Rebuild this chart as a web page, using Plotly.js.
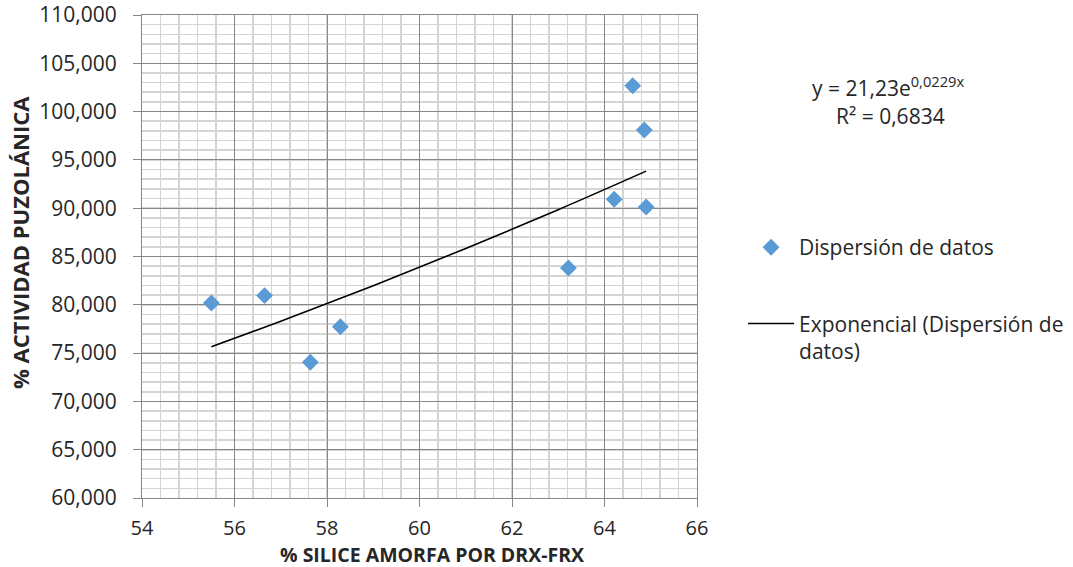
<!DOCTYPE html>
<html>
<head>
<meta charset="utf-8">
<script src="https://cdn.plot.ly/plotly-3.0.1.min.js"></script>
<style>
html,body{margin:0;padding:0;background:#fff;}
#chart{width:1073px;height:567px;}
</style>
</head>
<body>
<div id="chart"></div>
<script>
// Scatter data (x: % sílice amorfa, y: % actividad puzolánica)
var silice = [55.50, 56.65, 57.64, 58.29, 63.22, 64.21, 64.61, 64.86, 64.90];
var actividad = [80.19, 80.95, 74.05, 77.73, 83.81, 90.92, 102.68, 98.10, 90.12];

// Exponential trendline (y = 21,23e^0,0229x)
var trendX = [55.50, 57.00, 59.00, 61.00, 63.00, 64.90];
var trendY = [75.67, 78.31, 81.98, 85.83, 89.85, 93.84];

var xTicks = [54, 56, 58, 60, 62, 64, 66];
var yTicks = [60, 65, 70, 75, 80, 85, 90, 95, 100, 105, 110];

var FONT = 'Open Sans, Noto Sans, sans-serif';
var TXT = '#262626';
var MAJOR = '#878787';
var MINOR = '#d4d4d4';

var traces = [
  {
    type: 'scatter', mode: 'markers',
    x: silice, y: actividad,
    name: 'Dispersión de datos',
    legendgroup: 'a',
    marker: {symbol: 'diamond', size: 13, color: '#5b9bd5'},
    hoverinfo: 'x+y'
  },
  {
    type: 'scatter', mode: 'lines',
    x: trendX, y: trendY,
    name: 'Exponencial (Dispersión de<br>datos)',
    legendgroup: 'b',
    line: {color: '#000000', width: 1.6, shape: 'spline'},
    hoverinfo: 'skip'
  }
];

var layout = {
  width: 1073, height: 567,
  margin: {l: 142, r: 376, t: 15, b: 69, pad: 0, autoexpand: false},
  paper_bgcolor: '#ffffff', plot_bgcolor: '#ffffff',
  separators: ',.',
  font: {family: FONT, size: 21, color: TXT},
  showlegend: true,
  legend: {
    x: 1.083, y: 0.561, xanchor: 'left', yanchor: 'top',
    traceorder: 'grouped', tracegroupgap: 46, valign: 'top',
    font: {family: FONT, size: 21, color: TXT},
    bgcolor: 'rgba(0,0,0,0)', itemwidth: 46
  },
  xaxis: {
    range: [54, 66], tickmode: 'array', tickvals: xTicks,
    ticktext: xTicks.map(String),
    showgrid: true, gridcolor: MAJOR, gridwidth: 1,
    showline: true, linecolor: MAJOR, linewidth: 1, mirror: true,
    ticks: 'outside', ticklen: 8, tickcolor: MAJOR, ticklabelstandoff: 4,
    tickfont: {family: FONT, size: 20, color: TXT},
    zeroline: false,
    minor: {dtick: 0.4, tick0: 54, showgrid: true, gridcolor: MINOR, gridwidth: 1.6, ticks: ''}
  },
  yaxis: {
    range: [60, 110], tickmode: 'array', tickvals: yTicks,
    tickformat: ',.3f',
    showgrid: true, gridcolor: MAJOR, gridwidth: 1,
    showline: true, linecolor: MAJOR, linewidth: 1, mirror: true,
    ticks: 'outside', ticklen: 8, tickcolor: MAJOR, ticklabelstandoff: 12,
    tickfont: {family: FONT, size: 21, color: TXT},
    zeroline: false,
    minor: {dtick: 1, tick0: 60, showgrid: true, gridcolor: MINOR, gridwidth: 1.6, ticks: ''}
  },
  annotations: [
    {
      xref: 'paper', yref: 'paper', x: (432 - 142) / 555, y: -(554.5 - 498) / 483,
      xanchor: 'center', yanchor: 'middle', showarrow: false,
      text: '<b>% SILICE AMORFA POR DRX-FRX</b>',
      font: {family: FONT, size: 19.5, color: TXT}
    },
    {
      xref: 'paper', yref: 'paper', x: -(142 - 20) / 555, y: (498 - 243) / 483,
      xanchor: 'center', yanchor: 'middle', showarrow: false, textangle: -90,
      text: '<b>% ACTIVIDAD PUZOLÁNICA</b>',
      font: {family: FONT, size: 22, color: TXT}
    },
    {
      xref: 'paper', yref: 'paper', x: (888 - 142) / 555, y: (498 - 86) / 483,
      xanchor: 'center', yanchor: 'middle', showarrow: false,
      text: 'y = 21,23e<sup>0,0229x</sup>',
      font: {family: FONT, size: 21, color: TXT}
    },
    {
      xref: 'paper', yref: 'paper', x: (890 - 142) / 555, y: (498 - 116) / 483,
      xanchor: 'center', yanchor: 'middle', showarrow: false,
      text: 'R² = 0,6834',
      font: {family: FONT, size: 21, color: TXT}
    }
  ]
};

Plotly.newPlot('chart', traces, layout, {displayModeBar: false, staticPlot: true});
</script>
</body>
</html>
